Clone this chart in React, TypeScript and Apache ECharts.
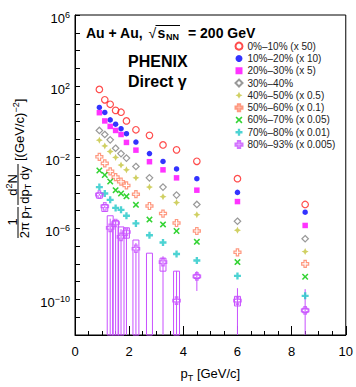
import React, { useEffect, useRef } from 'react';
import * as echarts from 'echarts';

const pT = [0.9, 1.1, 1.3, 1.5, 1.7, 1.9, 2.25, 2.75, 3.25, 3.75, 4.5, 6.0, 8.5];

const c0010 = [65, 17, 9.5, 4.3, 3.4, 1.1, 0.35, 0.17, 0.049, 0.026, 5.9e-3, 6.2e-4, 2.2e-5];
const c1020 = [6.3, 3.3, 1.26, 0.72, 0.4, 0.21, 0.071, 0.016, 5.8e-3, 2.2e-3, 6.2e-4, 1.05e-4, 8.1e-6];
const c2030 = [3.2, 1.1, 0.54, 0.32, 0.19, 0.068, 0.025, 5.6e-3, 1.95e-3, 6.9e-4, 1.4e-4, 3.2e-5, 1.45e-6];
const c3040 = [0.32, 0.19, 0.095, 0.032, 0.016, 8.9e-3, 3.0e-3, 6.9e-4, 2.1e-4, 7.4e-5, 2.2e-5, 2.5e-6, 2.6e-7];
const c4050 = [0.091, 0.043, 0.021, 9.8e-3, 3.6e-3, 1.95e-3, 6.9e-4, 2.1e-4, 6.0e-5, 2.8e-5, 5.9e-6, 7.8e-7, 4.9e-8];
const c5060 = [0.0105, 4.5e-3, 1.6e-3, 7.6e-4, 4.2e-4, 2.6e-4, 8.3e-5, 1.8e-5, 6.8e-6, 2.0e-6, 7.1e-7, 4.5e-8, 1.0e-8];
const c6070 = [1.8e-3, 1.0e-3, 4.3e-4, 1.4e-4, 9.1e-5, 6.3e-5, 2.1e-5, 3.1e-6, 1.66e-6, 7.1e-7, 1.74e-7, 1.26e-8, 1.9e-9];
const c7080 = [2.1e-4, 9.1e-5, 4.0e-5, 1.4e-5, 1.1e-5, 5.1e-6, 1.9e-6, 4.1e-7, 1.6e-7, 3.6e-8, 1.55e-8, 2.1e-9, 1.6e-10];
const c8093 = [7.9e-5, 1.7e-5, 1.07e-6, 2.0e-6, 3.3e-7, 6.2e-7, 7.1e-8, null, 1.26e-8, 8.5e-11, 2.0e-9, 8.5e-11, 2.4e-11];

// 80-93%: systematic boxes and statistical error bars (0 = extends below the axis)
const sys8093Hi = [1.0e-4, 2.2e-5, 5.1e-6, 2.8e-6, 1.2e-6, 1.07e-6, 2.2e-7, 4.0e-8, 2.1e-8, 3.9e-9, 2.6e-9, 1.5e-10, 3.2e-11];
const sys8093Lo = [5.0e-5, 8.9e-6, 0, 0, 0, 2.8e-7, 0, 0, 3.9e-9, 0, 1.5e-9, 4.3e-11, 1.8e-11];
const err8093Hi = [9e-5, 2.0e-5, 3.5e-6, 2.8e-6, 9e-7, 9e-7, 1.5e-7, null, 2.7e-8, 4e-9, 3.9e-9, 4.3e-10, 3.8e-10];
const err8093Lo = [6.9e-5, 1.4e-5, 0, 0, 0, 0, 0, null, 0, 0, 3.0e-10, 0, 0];

const names = [
  '0%–10% (x 50)', '10%–20% (x 10)', '20%–30% (x 5)', '30%–40%', '40%–50% (x 0.5)',
  '50%–60% (x 0.1)', '60%–70% (x 0.05)', '70%–80% (x 0.01)', '80%–93% (x 0.005)',
];
const xTicks = [0, 2, 4, 6, 8, 10];

const FONT = 'Liberation Sans, Arial, sans-serif';
const PLUS = 'path://M-1,-3 L1,-3 L1,-1 L3,-1 L3,1 L1,1 L1,3 L-1,3 L-1,1 L-3,1 L-3,-1 L-1,-1 Z';
const XMARK = 'path://M-2,-3 L0,-1 L2,-3 L3,-2 L1,0 L3,2 L2,3 L0,1 L-2,3 L-3,2 L-1,0 L-3,-2 Z';
const STAR4 = 'path://M0,-4 L1.3,-1.3 L4,0 L1.3,1.3 L0,4 L-1.3,1.3 L-4,0 L-1.3,-1.3 Z';

const styles = [
  { data: c0010, symbol: 'circle', size: 6.5, color: '#ff2020', open: true },
  { data: c1020, symbol: 'circle', size: 5.5, color: '#0000ff', open: false },
  { data: c2030, symbol: 'rect', size: 5.5, color: '#ff00ff', open: false },
  { data: c3040, symbol: 'diamond', size: 6.5, color: '#808080', open: true },
  { data: c4050, symbol: STAR4, size: 7, color: '#c4c43c', open: false },
  { data: c5060, symbol: PLUS, size: 7, color: '#ff8060', open: true },
  { data: c6070, symbol: XMARK, size: 6.5, color: '#00c800', open: false },
  { data: c7080, symbol: PLUS, size: 7, color: '#20c8c8', open: false },
  { data: c8093, symbol: PLUS, size: 7.5, color: '#c850ff', open: true },
];

const VIOLET = '#c850ff';
const FLOOR = 1e-12;
const clampV = (v: number) => (v <= 0 ? FLOOR : v);

export default function App() {
  const ref = useRef<HTMLDivElement>(null);
  useEffect(() => {
    if (!ref.current) return;
    const chart = echarts.init(ref.current, null, { renderer: 'svg' });

    const scatter = styles.map((s, k) => ({
      name: names[k],
      type: 'scatter',
      z: 3,
      symbol: s.symbol,
      symbolSize: s.size,
      itemStyle: s.open
        ? { color: 'rgba(255,255,255,0)', borderColor: s.color, borderWidth: 1.2 }
        : { color: s.color, borderWidth: 0 },
      data: pT.map((x, i) => [x, s.data[i]]).filter((d) => d[1] != null),
    }));

    const boxData = pT.map((x, i) => [
      x,
      sys8093Lo[i] == null ? FLOOR : clampV(sys8093Lo[i] as number),
      sys8093Hi[i] == null ? FLOOR : clampV(sys8093Hi[i] as number),
      err8093Lo[i] == null ? -1 : clampV(err8093Lo[i] as number),
      err8093Hi[i] == null ? -1 : clampV(err8093Hi[i] as number),
    ]);

    const custom = {
      type: 'custom',
      name: 'sys8093',
      z: 2,
      silent: true,
      encode: { x: 0, y: [1, 2] },
      data: boxData,
      renderItem: (params: any, api: any) => {
        const x = api.value(0);
        const sLo = api.value(1);
        const sHi = api.value(2);
        const eLo = api.value(3);
        const eHi = api.value(4);
        const children: any[] = [];
        const pHi = api.coord([x, sHi]);
        const pLo = api.coord([x, sLo]);
        const hw = api.coord([x + 0.11, sHi])[0] - pHi[0];
        children.push({
          type: 'rect',
          shape: { x: pHi[0] - hw, y: pHi[1], width: 2 * hw, height: pLo[1] - pHi[1] },
          style: { fill: 'none', stroke: VIOLET, lineWidth: 1 },
        });
        if (eHi > 0 && eLo > 0) {
          const a = api.coord([x, eHi]);
          const b = api.coord([x, eLo]);
          children.push({
            type: 'line',
            shape: { x1: a[0], y1: a[1], x2: b[0], y2: b[1] },
            style: { stroke: VIOLET, lineWidth: 1 },
          });
        }
        return { type: 'group', children };
      },
    };

    const supRich = {
      b: { fontSize: 13, color: '#000', fontFamily: FONT, padding: [6, 0, 0, 0] },
      s: { fontSize: 9, color: '#000', fontFamily: FONT },
    };

    const txt = (x: number, y: number, text: string, o: any = {}) => ({
      type: 'text',
      x,
      y,
      rotation: o.rotation || 0,
      style: {
        text,
        fill: '#000',
        font: o.font || `bold 14px ${FONT}`,
        align: o.align || 'left',
        verticalAlign: 'middle',
        rich: o.rich,
      },
    });

    const rotRich = {
      t: { fontSize: 9, fontFamily: FONT, fill: '#000', padding: [7, 0, 0, 0] },
      u: { fontSize: 9, fontFamily: FONT, fill: '#000', padding: [0, 0, 6, 0] },
      m: { fontSize: 13, fontFamily: FONT, fill: '#000' },
    };
    const R = Math.PI / 2;

    chart.setOption({
      animation: false,
      grid: { left: 75, right: 10, top: 15, bottom: 46, show: true, borderColor: '#000', borderWidth: 1, backgroundColor: 'transparent' },
      legend: {
        data: names,
        orient: 'vertical',
        left: 234.5,
        top: 40,
        padding: 0,
        itemWidth: 7,
        itemHeight: 7,
        itemGap: 0,
        textStyle: { fontSize: 10, color: '#222', fontFamily: FONT, lineHeight: 12.3 },
      },
      xAxis: {
        type: 'value',
        min: 0,
        max: 10,
        interval: 2,
        name: 'p{t|T} [GeV/c]',
        nameLocation: 'middle',
        nameGap: 30,
        nameTextStyle: {
          fontSize: 13, color: '#000', fontFamily: FONT,
          rich: { t: { fontSize: 9, color: '#000', fontFamily: FONT, padding: [8, 0, 0, 0] } },
        },
        axisLine: { lineStyle: { color: '#000', width: 1 } },
        axisTick: { inside: true, length: 9, lineStyle: { color: '#000' } },
        minorTick: { show: true, splitNumber: 4, length: 4, lineStyle: { color: '#000' } },
        splitLine: { show: false },
        axisLabel: {
          color: '#000', fontSize: 13, margin: 10, fontFamily: FONT,
          formatter: (v: number) => (xTicks.includes(v) ? String(v) : ''),
        },
      },
      yAxis: {
        type: 'log',
        logBase: 10,
        min: 1e-12,
        max: 1e6,
        interval: 1,
        axisLine: { lineStyle: { color: '#000', width: 1 } },
        axisTick: { inside: true, length: 5, lineStyle: { color: '#000' } },
        splitLine: { show: false },
        axisLabel: {
          margin: 5,
          fontFamily: FONT,
          rich: supRich,
          formatter: (v: number) => {
            const e = Math.round(Math.log10(v));
            if ((((e % 4) + 4) % 4) !== 2) return '';
            return `{b|10}{s|${e < 0 ? '−' + -e : e}}`;
          },
        },
      },
      graphic: [
        txt(86, 33, 'Au + Au,'),
        txt(148.5, 32.5, '√', { font: `14px ${FONT}` }),
        txt(157.5, 33, 's'),
        txt(166, 37, 'NN', { font: `bold 9px ${FONT}` }),
        txt(188, 33, '= 200 GeV'),
        { type: 'line', shape: { x1: 155.5, y1: 25.5, x2: 180, y2: 25.5 }, style: { stroke: '#000', lineWidth: 1 } },
        txt(128, 61, 'PHENIX', { font: `bold 16px ${FONT}` }),
        txt(128, 81, 'Direct γ', { font: `bold 16px ${FONT}` }),
        // y-axis title (rotated)
        txt(12.5, 222, '1', { rotation: R, align: 'center', font: `13px ${FONT}` }),
        { type: 'line', shape: { x1: 18, y1: 207, x2: 18, y2: 238 }, style: { stroke: '#000', lineWidth: 1 } },
        txt(24.5, 222, '{m|2π p}{t|T}', { rotation: R, align: 'center', font: `13px ${FONT}`, rich: rotRich }),
        txt(12, 185, '{m|d}{u|2}{m|N}', { rotation: R, align: 'center', font: `13px ${FONT}`, rich: rotRich }),
        { type: 'line', shape: { x1: 18, y1: 164, x2: 18, y2: 205 }, style: { stroke: '#000', lineWidth: 1 } },
        txt(24.5, 185, '{m|dp}{t|T}{m| dy}', { rotation: R, align: 'center', font: `13px ${FONT}`, rich: rotRich }),
        txt(19, 161, '{m|[(GeV/c)}{u|−2}{m|]}', { rotation: R, align: 'left', font: `13px ${FONT}`, rich: rotRich }),
      ],
      series: [custom, ...scatter],
    });
    return () => chart.dispose();
  }, []);
  return <div ref={ref} style={{ width: 356, height: 387, position: 'absolute', left: 0, top: 0 }} />;
}
